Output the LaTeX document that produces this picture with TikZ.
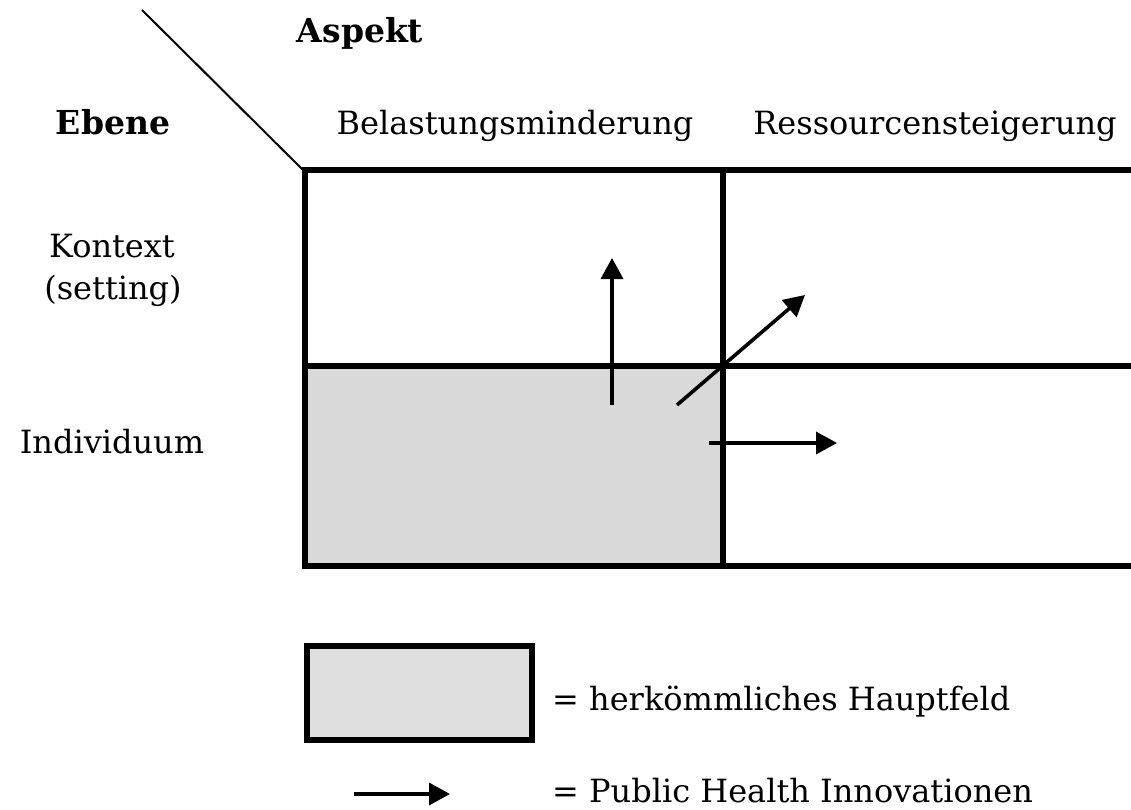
\documentclass[tikz,border=0pt]{standalone}
\usepackage{fontspec}
\setmainfont{DejaVu Serif}
\usetikzlibrary{arrows.meta,positioning}

\definecolor{feldgrau}{RGB}{217,217,217}
\definecolor{leggrau}{RGB}{223,223,223}

\tikzset{
  txt/.style={font=\fontsize{32}{40}\selectfont, inner sep=0pt},
  txtb/.style={txt, font=\fontsize{33}{40}\selectfont\bfseries},
  gitter/.style={line width=6.5pt, line cap=rect},
  inno/.style={line width=3.6pt, -{Triangle[length=21pt,width=22pt]}}
}

\begin{document}
\begin{tikzpicture}[x=1pt, y=-1pt]
    \useasboundingbox (0,0) rectangle (1131,810);
    % Kopfzeile
    \draw[line width=2pt](142,10)--(304,171);
    \node[txtb, anchor=base] (aspekt) at (360,43){Aspekt};
    \node[txtb, anchor=base] (ebene) at (113,135){Ebene};
    \node[txt, anchor=base] (belast) at (515,135){Belastungsminderung};
    \node[txt, anchor=base] (ressour) at (935,135){Ressourcensteigerung};
    \node[txt, anchor=base] (kontext) at (112,258){Kontext};
    \node[txt, anchor=base] (setting) at (113,299){(setting)};
    \node[txt, anchor=base] (indiv) at (112,453){Individuum};
    % Felder
    \fill[feldgrau](305,366) rectangle (723,566);
    \draw[gitter, line cap=butt](1131,170)--(305,170)--(305,566)--(1131,566);
    \draw[gitter](305,366)--(1131,366);
    \draw[gitter](723,170)--(723,566);
    % Innovationen
    \coordinate (hochA) at (612,405);
    \coordinate (hochB) at (612,258);
    \coordinate (diagA) at (677,405);
    \coordinate (diagB) at (805,295);
    \coordinate (rechtsA) at (709,443);
    \coordinate (rechtsB) at (837,443);
    \draw[inno](hochA)--(hochB);
    \draw[inno](diagA)--(diagB);
    \draw[inno](rechtsA)--(rechtsB);
    % Legende
    \node[draw, line width=6.5pt, fill=leggrau, minimum width=225pt, minimum height=94pt,
          inner sep=0pt] (legbox) at (419.5,693){};
    \node[txt, anchor=base west] (legfeld) at (552,710){= herkömmliches Hauptfeld};
    \coordinate (legA) at (354,794);
    \coordinate (legB) at (450,794);
    \draw[inno](legA)--(legB);
    \node[txt, anchor=base west] (leginno) at (552,802){= Public Health Innovationen};
  \end{tikzpicture}
\end{document}
